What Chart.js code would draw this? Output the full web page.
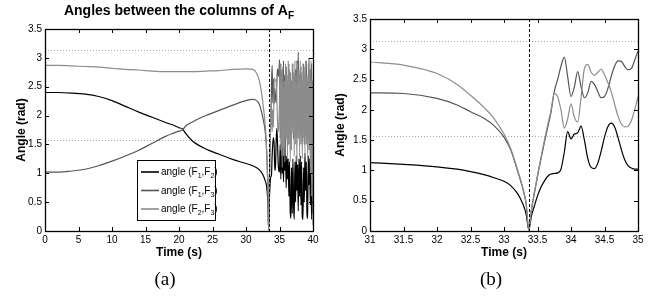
<!DOCTYPE html>
<html><head><meta charset="utf-8">
<script src="https://cdn.jsdelivr.net/npm/chart.js@4.4.0/dist/chart.umd.min.js"></script>
<style>
html,body{margin:0;padding:0;background:#fff;width:656px;height:297px;overflow:hidden}
#wa{position:absolute;left:0;top:0;width:330px;height:297px}
#wb{position:absolute;left:330px;top:0;width:326px;height:297px}
</style></head><body>
<div id="wa"><canvas id="ca" width="330" height="297"></canvas></div>
<div id="wb"><canvas id="cb" width="326" height="297"></canvas></div>
<script>
// ---------- ticks / reference values ----------
const yTicks = [0, 0.5, 1, 1.5, 2, 2.5, 3, 3.5];
const xTicksA = [0, 5, 10, 15, 20, 25, 30, 35, 40];
const xTicksB = [31, 31.5, 32, 32.5, 33, 33.5, 34, 34.5, 35];
const refLevels = [Math.PI / 2, Math.PI];
const eventTime = 33.37;
const seriesNames = [['1', '2'], ['1', '3'], ['2', '3']];

// ---------- panel (a): 0 .. 40 s ----------
const timeA = [0, 2, 4, 6, 8, 10, 12, 14, 16, 18, 19, 20, 20.5, 21, 21.5, 22, 24, 26, 28, 30, 31, 32, 32.5, 32.85, 33.0, 33.1, 33.2, 33.3, 33.37,
  33.45, 33.5, 33.6, 33.7, 33.8, 33.9, 34.0, 34.1, 34.2, 34.3, 34.4, 34.5, 34.6, 34.7, 34.8, 34.9, 35.0,
  35.1, 35.2, 35.3, 35.4, 35.5, 35.6, 35.7, 35.8, 35.9, 36.0,
  36.1, 36.2, 36.3, 36.4, 36.5, 36.6, 36.7, 36.8, 36.9, 37.0,
  37.1, 37.2, 37.3, 37.4, 37.5, 37.6, 37.7, 37.8, 37.9, 38.0,
  38.1, 38.2, 38.3, 38.4, 38.5, 38.6, 38.7, 38.8, 38.9, 39.0,
  39.1, 39.2, 39.3, 39.4, 39.5, 39.6, 39.7, 39.8, 39.9, 40.0];
const f12A = [2.40, 2.40, 2.39, 2.37, 2.33, 2.26, 2.16, 2.06, 1.97, 1.88, 1.84, 1.79, 1.77, 1.69, 1.62, 1.56, 1.42, 1.33, 1.24, 1.17, 1.13, 1.06, 0.98, 0.88, 0.82, 0.75, 0.62, 0.38, 0.02,
  0.40, 0.58, 0.82, 0.94, 0.96, 1.30, 1.52, 1.62, 1.50, 1.05, 1.12, 1.55, 1.78, 1.55, 1.18, 1.04, 1.02,
  1.50, 0.90, 1.60, 1.00, 1.45, 0.85, 1.55, 1.05, 1.35, 0.75,
  1.30, 0.90, 1.25, 0.60, 1.20, 0.35, 0.22, 1.10, 0.30, 1.25,
  0.45, 0.20, 1.20, 0.50, 1.30, 0.70, 1.15, 0.35, 1.25, 0.60,
  1.30, 0.45, 1.20, 0.25, 0.20, 1.10, 0.50, 1.35, 0.70, 1.20,
  0.30, 0.22, 1.30, 0.80, 1.25, 0.45, 1.10, 0.20, 0.90, 0.30];
const f13A = [1.02, 1.02, 1.04, 1.07, 1.13, 1.21, 1.30, 1.40, 1.52, 1.64, 1.69, 1.73, 1.75, 1.82, 1.86, 1.89, 2.00, 2.09, 2.18, 2.26, 2.28, 2.19, 1.97, 1.74, 1.55, 1.34, 1.00, 0.60, 0.02,
  0.60, 0.90, 1.45, 1.92, 2.48, 2.87, 2.22, 2.63, 2.20, 2.47, 2.30, 2.22, 2.55, 2.81, 2.72, 2.68, 2.97,
  1.60, 2.90, 1.30, 2.80, 1.50, 2.95, 1.70, 2.70, 1.30, 2.85,
  1.90, 2.60, 1.50, 2.90, 1.90, 2.75, 1.40, 2.60, 2.00, 2.90,
  1.60, 2.70, 2.10, 2.80, 1.70, 2.95, 2.20, 3.10, 1.90, 2.70,
  2.20, 2.85, 1.80, 2.60, 2.10, 2.90, 1.50, 2.70, 2.30, 2.95,
  1.90, 2.60, 2.20, 3.00, 1.70, 2.80, 2.30, 2.90, 1.20, 2.50];
const f23A = [2.87, 2.87, 2.86, 2.85, 2.84, 2.82, 2.80, 2.79, 2.77, 2.76, 2.76, 2.76, 2.76, 2.76, 2.76, 2.76, 2.77, 2.78, 2.80, 2.81, 2.80, 2.60, 2.24, 1.86, 1.60, 1.36, 1.02, 0.62, 0.02,
  0.62, 0.92, 1.48, 2.00, 2.22, 1.72, 2.10, 1.80, 2.65, 2.62, 2.62, 2.58, 2.30, 1.90, 1.72, 1.82, 2.22,
  2.90, 1.40, 2.70, 1.10, 2.85, 1.30, 2.60, 1.20, 2.90, 1.60,
  2.70, 1.30, 2.95, 1.50, 2.80, 1.20, 2.60, 1.40, 2.90, 1.70,
  2.75, 1.30, 2.95, 1.50, 2.70, 1.20, 2.90, 1.60, 2.80, 1.30,
  2.95, 1.50, 2.75, 1.25, 2.90, 1.60, 2.85, 1.30, 2.95, 1.50,
  2.70, 1.20, 2.90, 1.40, 2.80, 1.00, 2.95, 0.60, 2.60, 0.10];

// ---------- panel (b): 31 .. 35 s ----------
const timeB = [31, 31.5, 32, 32.3, 32.5, 32.7, 32.85, 33.0, 33.1, 33.2,
  33.28, 33.33, 33.37, 33.41, 33.45,
  33.5, 33.55, 33.6, 33.65, 33.7, 33.75, 33.8, 33.85, 33.9, 33.95,
  34.0, 34.05, 34.1, 34.15, 34.2, 34.25, 34.3, 34.35, 34.4, 34.45,
  34.5, 34.55, 34.6, 34.65, 34.7, 34.75, 34.8, 34.85, 34.9, 34.95, 35.0];
const f12B = [1.13, 1.10, 1.06, 1.02, 0.98, 0.93, 0.88, 0.82, 0.75, 0.62,
  0.45, 0.28, 0.02, 0.25, 0.40,
  0.58, 0.72, 0.82, 0.90, 0.94, 0.95, 0.96, 1.02, 1.30, 1.64,
  1.52, 1.60, 1.62, 1.73, 1.50, 1.20, 1.05, 1.03, 1.12, 1.32,
  1.55, 1.72, 1.78, 1.72, 1.55, 1.35, 1.18, 1.08, 1.04, 1.02, 1.02];
const f13B = [2.28, 2.27, 2.19, 2.08, 1.97, 1.86, 1.74, 1.55, 1.34, 1.00,
  0.70, 0.45, 0.02, 0.35, 0.60,
  0.90, 1.18, 1.45, 1.70, 1.95, 2.30, 2.50, 2.72, 2.87, 2.55,
  2.22, 2.38, 2.63, 2.38, 2.20, 2.28, 2.47, 2.42, 2.30, 2.20,
  2.22, 2.35, 2.55, 2.72, 2.81, 2.80, 2.72, 2.66, 2.68, 2.82, 2.97];
const f23B = [2.79, 2.74, 2.60, 2.42, 2.24, 2.04, 1.86, 1.60, 1.36, 1.02,
  0.72, 0.46, 0.02, 0.36, 0.62,
  0.92, 1.20, 1.48, 1.74, 1.98, 2.27, 2.22, 2.00, 1.70, 1.85,
  2.10, 1.88, 1.80, 2.20, 2.68, 2.75, 2.62, 2.57, 2.62, 2.67,
  2.58, 2.45, 2.30, 2.10, 1.90, 1.77, 1.72, 1.73, 1.82, 2.00, 2.22];

const colors = ['#000000', '#555555', '#8c8c8c'];
const FONT = 'Liberation Sans, Arial, Helvetica, sans-serif';

function pts(t, v) { return t.map((x, i) => ({ x: x, y: v[i] })); }

function drawParts(ctx, parts, x, y, size, weight, align) {
  const main = (weight || '') + ' ' + size + 'px ' + FONT;
  const sub = (weight || '') + ' ' + Math.round(size * 0.72) + 'px ' + FONT;
  let w = 0;
  parts.forEach(p => { ctx.font = p[1] ? sub : main; w += ctx.measureText(p[0]).width; });
  let cx = align === 'center' ? x - w / 2 : x;
  ctx.textBaseline = 'alphabetic';
  ctx.textAlign = 'left';
  parts.forEach(p => {
    ctx.font = p[1] ? sub : main;
    ctx.fillText(p[0], cx, p[1] ? y + size * 0.3 : y);
    cx += ctx.measureText(p[0]).width;
  });
}

function decor(o) {
  return {
    id: 'decor',
    beforeDatasetsDraw(chart) {
      const { ctx, chartArea: a, scales: { y } } = chart;
      ctx.save();
      ctx.strokeStyle = '#a8a8a8'; ctx.lineWidth = 1; ctx.setLineDash([1, 2]);
      refLevels.forEach(v => {
        const py = Math.round(y.getPixelForValue(v)) + 0.5;
        ctx.beginPath(); ctx.moveTo(a.left, py); ctx.lineTo(a.right, py); ctx.stroke();
      });
      ctx.restore();
    },
    afterDatasetsDraw(chart) {
      const { ctx, chartArea: a, scales: { x, y } } = chart;
      ctx.save();
      ctx.strokeStyle = '#000'; ctx.lineWidth = 1; ctx.setLineDash([3, 2]);
      const ex = Math.round(x.getPixelForValue(eventTime)) + 0.5;
      ctx.beginPath(); ctx.moveTo(ex, a.top); ctx.lineTo(ex, a.bottom); ctx.stroke();
      ctx.setLineDash([]);
      ctx.lineWidth = 1.3;
      ctx.strokeRect(Math.round(a.left) + 0.5, Math.round(a.top) + 0.5, Math.round(a.right - a.left), Math.round(a.bottom - a.top));
      ctx.lineWidth = 1;
      const L = 4;
      x.ticks.forEach(t => {
        const px = Math.round(x.getPixelForValue(t.value)) + 0.5;
        ctx.beginPath();
        ctx.moveTo(px, a.bottom); ctx.lineTo(px, a.bottom - L);
        ctx.moveTo(px, a.top); ctx.lineTo(px, a.top + L);
        ctx.stroke();
      });
      y.ticks.forEach(t => {
        const py = Math.round(y.getPixelForValue(t.value)) + 0.5;
        ctx.beginPath();
        ctx.moveTo(a.left, py); ctx.lineTo(a.left + L, py);
        ctx.moveTo(a.right, py); ctx.lineTo(a.right - L, py);
        ctx.stroke();
      });
      if (o.legend) {
        const lg = o.legend;
        ctx.fillStyle = '#fff';
        ctx.fillRect(lg.x, lg.y, lg.w, lg.h);
        ctx.strokeStyle = '#000'; ctx.lineWidth = 1;
        ctx.strokeRect(lg.x + 0.5, lg.y + 0.5, lg.w, lg.h);
        seriesNames.forEach((n, i) => {
          const ry = lg.y + 12 + i * 18.5;
          ctx.strokeStyle = colors[i]; ctx.lineWidth = 1.6;
          ctx.beginPath(); ctx.moveTo(lg.x + 4, ry); ctx.lineTo(lg.x + 22, ry); ctx.stroke();
          ctx.fillStyle = '#000';
          drawParts(ctx, [['angle (F', 0], [n[0], 1], [',F', 0], [n[1], 1], [')', 0]], lg.x + 24, ry + 3, 10, '', 'left');
        });
      }
      ctx.restore();
    },
    afterDraw(chart) {
      const { ctx } = chart;
      ctx.save();
      ctx.fillStyle = '#000';
      if (o.title) drawParts(ctx, [['Angles between the columns of A', 0], ['F', 1]], o.title.x, o.title.y, 14, 'bold', 'center');
      ctx.font = '19px "Liberation Serif", "Times New Roman", serif';
      ctx.textAlign = 'center'; ctx.textBaseline = 'middle';
      ctx.fillText(o.tag, o.tagX, 280);
      ctx.restore();
    }
  };
}

function makeChart(id, cfg) {
  const ds = [cfg.f12, cfg.f13, cfg.f23].map((v, i) => ({
    data: pts(cfg.t, v),
    borderColor: colors[i],
    borderWidth: 1.2,
    pointRadius: 0,
    fill: false,
    cubicInterpolationMode: 'monotone',
    order: 3 - i
  }));
  return new Chart(document.getElementById(id), {
    type: 'line',
    data: { datasets: ds },
    options: {
      responsive: false, animation: false, events: [],
      layout: { padding: cfg.pad },
      plugins: { legend: { display: false }, tooltip: { enabled: false }, title: { display: false } },
      scales: {
        x: {
          type: 'linear', min: cfg.xmin, max: cfg.xmax,
          afterBuildTicks: s => { s.ticks = cfg.xt.map(v => ({ value: v })); },
          afterFit: s => { s.height = 29; },
          grid: { display: false, drawTicks: false }, border: { display: false },
          ticks: { padding: 3, autoSkip: false, maxRotation: 0, color: '#000', font: { family: FONT, size: 10 }, callback: v => String(v) },
          title: { display: true, text: 'Time (s)', color: '#000', padding: 0, font: { family: FONT, size: 12, weight: 'bold' } }
        },
        y: {
          type: 'linear', min: 0, max: 3.5,
          afterBuildTicks: s => { s.ticks = yTicks.map(v => ({ value: v })); },
          afterFit: s => { s.width = cfg.yw; },
          grid: { display: false, drawTicks: false }, border: { display: false },
          ticks: { padding: 3, color: '#000', font: { family: FONT, size: 10 }, callback: v => String(v) },
          title: { display: true, text: 'Angle (rad)', color: '#000', padding: { top: cfg.ytp, bottom: 0 }, font: { family: FONT, size: 12, weight: 'bold' } }
        }
      }
    },
    plugins: [decor(cfg.decor)]
  });
}

makeChart('ca', {
  t: timeA, f12: f12A, f13: f13A, f23: f23A, xmin: 0, xmax: 40, xt: xTicksA,
  pad: { left: 0, top: 29, right: 17, bottom: 37 }, yw: 45, ytp: 14,
  decor: { title: { x: 179, y: 15 }, tag: '(a)', tagX: 165, legend: { x: 137, y: 160, w: 78, h: 60 } }
});
makeChart('cb', {
  t: timeB, f12: f12B, f13: f13B, f23: f23B, xmin: 31, xmax: 35, xt: xTicksB,
  pad: { left: 0, top: 19, right: 18, bottom: 37 }, yw: 40, ytp: 3,
  decor: { tag: '(b)', tagX: 161 }
});
</script>
</body></html>
